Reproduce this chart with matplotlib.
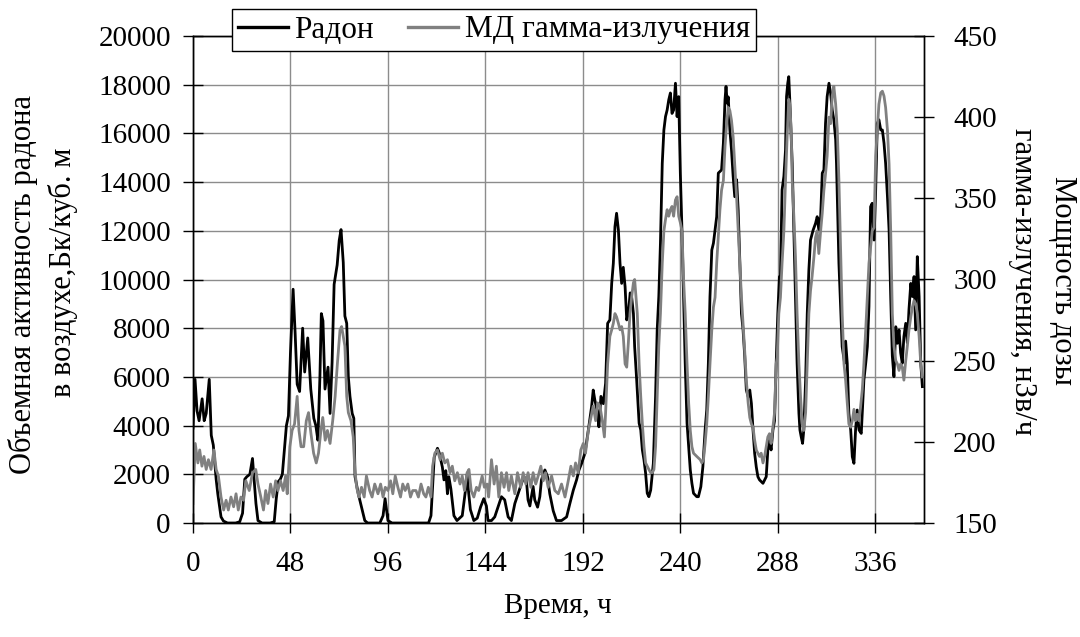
import matplotlib
matplotlib.use("Agg")
import matplotlib.pyplot as plt
from matplotlib.lines import Line2D

# ---------------- data ----------------
radon_t = [0, 1, 2, 3, 4.5, 5.5, 6.5, 8, 9, 10, 11.4, 12.2, 13.8, 15, 17, 19, 21, 23, 24.4,
           25.5, 26.5, 28, 29.3, 30.1, 31, 32, 34, 36, 38, 40, 41, 42, 43, 44, 45, 46, 47, 48,
           49.3, 50.3, 51.3, 52.5, 54, 55, 56.5, 58, 59.5, 60.5, 61.5, 62.5, 63.2, 64, 65, 66.5,
           67.5, 68.5, 69.5, 71, 72, 72.9, 74, 74.8, 75.7, 76.5, 77.3, 78.4, 79.2, 79.8, 81.4,
           83, 84.6, 86, 88, 90, 92, 93.6, 94.6, 96, 98, 100, 104, 108, 112, 116, 117.2, 118.8,
           120.4, 121.2, 122, 122.8, 123.6, 124.5, 125.3, 126, 127, 128.5, 130, 132.6, 134.2,
           135, 135.8, 136.6, 138.3, 140, 141.6, 143.2, 144.5, 145.3, 147, 148.6, 150.2, 151.9,
           153.5, 155.2, 156.8, 158.5, 160.1, 161.8, 163, 164.2, 165, 165.9, 167.5, 168.3,
           169.7, 170.8, 171.6, 173.3, 174.6, 175.7, 177.4, 179, 181.5, 184, 185.6, 187.3,
           188.9, 190.1, 191.4, 193, 194.7, 196.3, 197.1, 197.9, 199.3, 199.9, 200.9, 202.1,
           203.2, 204.2, 205.3, 206.2, 207, 207.8, 208.6, 209.5, 210.3, 211.1, 211.9, 212.8,
           213.6, 214.4, 215.3, 216, 216.9, 217.5, 218.5, 219.7, 220.5, 221.3, 222.1, 222.9,
           223.7, 224.5, 225.4, 226.7, 227.8, 228.6, 229.4, 230.2, 231.1, 231.9, 232.7, 233.5,
           234.3, 235.1, 235.9, 236.7, 237.6, 238.4, 239.2, 240, 240.8, 241.6, 242.4, 243.3,
           244.1, 244.9, 245.7, 246.5, 248.1, 248.9, 250.1, 251.1, 252.2, 253, 253.8, 254.6,
           255.5, 256.3, 257.1, 257.9, 258.7, 260.3, 261.2, 262, 262.5, 263.1, 263.6, 264.4,
           265.2, 266, 266.8, 267.7, 268.5, 269.3, 270.1, 270.9, 271.7, 272.5, 273.4, 274.2,
           275, 275.8, 276.6, 277.4, 278.2, 279, 280.7, 282.3, 283.1, 283.9, 284.7, 285.6,
           286.4, 287.2, 288, 288.8, 289.3, 290.1, 291, 291.8, 292.3, 292.9, 293.4, 293.9,
           295.1, 295.9, 296.7, 297.5, 298.4, 298.9, 299.5, 300.2, 300.8, 301.7, 302.5, 303.3,
           304.1, 305.4, 306.6, 307.4, 308.2, 309.1, 309.9, 310.7, 311.5, 312.3, 313.2, 314,
           314.8, 315.6, 316.5, 316.9, 318.1, 318.9, 319.7, 320.9, 321.4, 322.2, 323, 323.9,
           324.7, 325.5, 326.3, 327.1, 328, 329.1, 329.6, 330.4, 331.3, 332.1, 332.9, 333.7,
           334.5, 335.4, 336.2, 337, 337.8, 338.7, 339.5, 340.3, 341.1, 342, 342.8, 343.6,
           344.4, 345.2, 346.1, 346.9, 347.7, 348.5, 349.3, 350.1, 351, 351.8, 352.6, 353.5,
           354.3, 355.1, 355.9, 356.7, 357.6, 358.4, 359.2]
radon_v = [3900, 5900, 4600, 4200, 5100, 4200, 4500, 5900, 3600, 3200, 1800, 1200, 250, 80, 0, 0,
           0, 50, 400, 1800, 1900, 2000, 2650, 1800, 800, 100, 0, 0, 0, 50, 1000, 1700, 1800,
           2000, 3000, 4000, 4400, 7000, 9600, 7800, 5700, 5400, 8000, 6200, 7600, 5500, 4300,
           4000, 3400, 6000, 8600, 8300, 5500, 6400, 4500, 6600, 9800, 10600, 11600, 12050,
           10700, 8500, 8200, 6000, 5200, 4500, 4300, 1900, 1200, 650, 100, 0, 0, 0, 0, 300,
           1000, 100, 0, 0, 0, 0, 0, 0, 300, 2700, 3070, 2900, 2600, 2300, 1770, 2150, 1200,
           1900, 1400, 300, 100, 300, 1350, 2000, 1200, 550, 100, 200, 650, 1000, 700, 100, 100,
           250, 650, 1080, 950, 250, 100, 800, 1200, 1630, 1900, 1750, 950, 700, 1500, 950, 650,
           1080, 1770, 2180, 1900, 1200, 500, 100, 100, 250, 800, 1350, 1770, 2180, 2450, 2860,
           3820, 4780, 5460, 5050, 4500, 3950, 5200, 4900, 5740, 8200, 8340, 9840, 10660, 12170,
           12720, 12030, 10660, 9840, 10500, 9700, 8340, 8600, 9450, 9300, 8600, 7240, 5870,
           4100, 3820, 3000, 2590, 2040, 1220, 1080, 1350, 2450, 5190, 7930, 9300, 11490, 14770,
           16140, 16690, 16960, 17380, 17660, 16820, 16960, 18060, 16690, 17510, 14370, 12030,
           9300, 6560, 4100, 3130, 2180, 1630, 1220, 1080, 1080, 1490, 2310, 3820, 4640, 6560,
           9300, 11210, 11490, 12030, 12580, 14370, 14500, 15600, 17380, 17930, 17240, 17500,
           16140, 15320, 14240, 13400, 14100, 12850, 10660, 8600, 7930, 6860, 5460, 5190, 5460,
           4910, 3820, 2860, 2300, 1900, 1770, 1630, 1900, 3000, 3400, 3000, 3820, 4200, 6560,
           8600, 10120, 10120, 13680, 14240, 15320, 17510, 18060, 18330, 17380, 14770, 12030,
           9300, 6560, 4500, 3820, 3550, 3270, 3820, 5870, 8600, 10390, 11620, 12030, 12310,
           12580, 12030, 12580, 14370, 14500, 16410, 17510, 18060, 17660, 16960, 16560, 15740,
           14770, 10660, 8900, 7240, 6560, 7470, 6560, 4500, 3820, 2720, 2450, 3820, 4640, 3820,
           3680, 4500, 5870, 6560, 7240, 8900, 12990, 13130, 11620, 13680, 16410, 16560, 16140,
           16140, 15600, 14770, 13400, 12030, 9300, 6860, 6010, 8060, 7380, 7930, 6990, 6560,
           7650, 8200, 7400, 8770, 9840, 9300, 10120, 7930, 10940, 9300, 6560, 5600]

gamma_t = [0, 1.1, 2.4, 3.3, 4.4, 5.4, 6.5, 7.6, 8.9, 10.3, 11.4, 12.5, 13.8, 15.1, 16.3, 17.4,
           18.7, 20, 21.2, 22.3, 23.6, 24.9, 26, 27.7, 29.3, 30.9, 32, 33.4, 34.7, 35.8, 36.9,
           38.2, 39.5, 40.7, 41.8, 43.1, 44.4, 45.6, 46.4, 47.7, 48.8, 50, 51.3, 52.2, 53.2,
           54.5, 55.8, 56.9, 58.1, 59.4, 60.7, 61.8, 63, 63.9, 65.1, 66.2, 67.5, 68.8, 70, 71.1,
           72.4, 73.2, 74, 74.8, 75.7, 76.5, 77.8, 78.9, 79.7, 80.6, 81.7, 83, 84.3, 85.4, 87,
           88.2, 89.5, 91.1, 92.4, 93.6, 94.7, 96, 97.3, 98.4, 99.6, 100.9, 102.2, 103.3, 104.5,
           105.8, 107.1, 108.2, 109.8, 111, 112.3, 113.6, 114.7, 115.9, 117.2, 118, 119.1,
           120.4, 121.7, 122.8, 124, 125.3, 126.6, 127.7, 128.9, 130.2, 131.5, 132.6, 133.7,
           135, 135.9, 137, 138.3, 139.6, 140.7, 142.4, 143.5, 144.8, 145.6, 147, 148.3, 149.4,
           150.6, 151.9, 153.2, 154.4, 155.5, 156.8, 158.5, 159.8, 161.4, 162.6, 163.9, 165,
           166.4, 167.5, 168.8, 170, 171.3, 172.5, 173.6, 174.9, 176.6, 178.2, 179.9, 181.5,
           183.2, 184.8, 186.1, 187.3, 188.4, 189.7, 191, 192.2, 193.3, 194.7, 196, 197.1,
           198.3, 199.3, 200.4, 201.6, 202.6, 203.2, 204.2, 205.3, 206.2, 207, 207.8, 208.6,
           209.5, 210.3, 211.1, 211.9, 212.8, 213.6, 214.4, 215.2, 216, 216.9, 217.5, 218.8,
           219.7, 220.5, 221.3, 222.1, 222.9, 223.7, 224.5, 225.4, 226.2, 227, 227.8, 228.6,
           229.4, 230.2, 231.1, 231.9, 232.7, 233.5, 234.3, 235.1, 235.9, 236.7, 237.6, 238.4,
           239.2, 240, 240.8, 241.6, 242.4, 243.3, 244.1, 244.9, 245.7, 246.5, 248.1, 249.8,
           250.6, 251.4, 252.2, 253, 253.8, 254.6, 255.5, 256.3, 257.1, 257.9, 258.7, 259.5,
           260.3, 261.2, 262, 262.8, 263.6, 264.4, 265.2, 266, 266.8, 267.7, 268.5, 269.3,
           270.1, 270.9, 271.7, 272.5, 273.4, 274.2, 275, 275.8, 276.6, 277.4, 278.2, 279,
           279.8, 280.7, 281.5, 282.3, 283.1, 283.9, 284.7, 285.6, 286.4, 287.2, 287.7, 288.5,
           289.3, 290.1, 291, 291.8, 292.6, 293.4, 293.9, 294.6, 295.1, 295.9, 296.7, 297.5,
           298.4, 299.2, 300, 300.8, 301.7, 302.5, 303.3, 304.1, 304.9, 305.8, 306.6, 307.4,
           308.2, 309.1, 309.9, 310.7, 311.5, 312.3, 313.2, 314, 314.8, 315.6, 316.5, 317.3,
           318.1, 318.9, 319.7, 320.6, 321.4, 322.2, 323, 323.9, 324.7, 325.5, 326.3, 327.1,
           328, 328.8, 329.6, 330.4, 331.3, 332.1, 332.9, 333.7, 334.5, 335.4, 336.2, 337,
           337.8, 338.7, 339.5, 340.3, 341.1, 342, 342.8, 343.6, 344.4, 345.2, 346.1, 346.9,
           347.7, 348.5, 349.3, 350.1, 351, 351.8, 352.6, 353.5, 354.3, 355.1, 355.9, 356.7,
           357.6, 358.4, 359.2]
gamma_v = [162, 199, 187, 195, 185, 191, 183, 189, 183, 195, 183, 179, 166, 158, 164, 158, 166,
           160, 168, 158, 166, 164, 176, 170, 181, 183, 174, 166, 158, 170, 162, 174, 166, 176,
           170, 176, 170, 179, 168, 197, 207, 211, 228, 207, 197, 197, 213, 218, 205, 193, 187,
           193, 207, 215, 201, 207, 199, 213, 228, 248, 269, 271, 265, 259, 228, 218, 213, 203,
           183, 172, 166, 172, 166, 179, 170, 166, 174, 168, 174, 166, 172, 170, 176, 168, 179,
           172, 166, 174, 170, 174, 166, 170, 170, 166, 174, 168, 166, 172, 166, 185, 193, 195,
           189, 193, 187, 189, 181, 185, 176, 181, 174, 179, 170, 181, 183, 170, 166, 172, 170,
           179, 172, 174, 166, 189, 174, 185, 166, 181, 172, 181, 170, 179, 168, 181, 172, 181,
           174, 181, 172, 181, 174, 179, 185, 176, 181, 172, 179, 170, 168, 174, 166, 176, 185,
           179, 187, 181, 195, 199, 193, 207, 215, 222, 213, 224, 222, 213, 203, 218, 248, 265,
           269, 273, 279, 277, 273, 269, 271, 265, 248, 246, 261, 279, 289, 298, 300, 279, 248,
           228, 211, 197, 187, 185, 183, 181, 181, 183, 197, 228, 259, 279, 310, 330, 337, 343,
           339, 343, 345, 339, 349, 351, 339, 335, 330, 300, 279, 248, 224, 207, 197, 193, 191,
           189, 187, 189, 199, 211, 228, 248, 269, 283, 289, 310, 326, 343, 355, 361, 382, 396,
           406, 404, 398, 388, 371, 351, 330, 310, 289, 273, 256, 238, 224, 215, 211, 209, 201,
           195, 193, 191, 193, 187, 191, 197, 203, 205, 199, 209, 218, 248, 252, 279, 289, 310,
           330, 361, 388, 411, 408, 392, 361, 339, 314, 279, 248, 228, 211, 207, 218, 248, 279,
           293, 302, 314, 326, 330, 316, 330, 341, 355, 365, 376, 400, 396, 413, 419, 408, 392,
           361, 320, 279, 248, 238, 224, 211, 209, 213, 220, 213, 217, 213, 222, 232, 248, 269,
           289, 310, 320, 330, 332, 376, 392, 408, 415, 416, 413, 406, 392, 371, 330, 279, 259,
           250, 248, 244, 248, 246, 238, 250, 259, 269, 277, 283, 287, 285, 279, 265, 248, 240]

x_ticks = [0, 48, 96, 144, 192, 240, 288, 336]
left_ticks = list(range(0, 20001, 2000))
right_ticks = [150, 200, 250, 300, 350, 400, 450]

series_names = ["Радон", "МД гамма-излучения"]
x_title = "Время, ч"
left_title = ["Объемная активность радона", "в воздухе,Бк/куб. м"]
right_title = ["Мощность дозы", "гамма-излучения, нЗв/ч"]

# ---------------- drawing ----------------
plt.rcParams['font.family'] = ['Liberation Serif', 'DejaVu Serif']
FS_TICK = 21
FS_TITLE = 22
FS_LEG = 22.5
W, H = 1080, 637
fig = plt.figure(figsize=(W / 100, H / 100), dpi=100)
L, R, T, B = 193, 924, 36, 523
ax = fig.add_axes([L / W, 1 - B / H, (R - L) / W, (B - T) / H])
ax2 = ax.twinx()

grid_c = "#8c8c8c"
ax.set_xlim(0, 360)
ax.set_ylim(0, 20000)
ax2.set_ylim(150, 450)
ax.set_xticks(x_ticks)
ax.set_yticks(left_ticks)
ax2.set_yticks(right_ticks)
ax.grid(True, color=grid_c, linewidth=1.0)
ax.set_axisbelow(True)

ax.plot(radon_t, radon_v, color="black", lw=2.0, solid_joinstyle="round")
ax2.plot(gamma_t, gamma_v, color="#808080", lw=2.0, solid_joinstyle="round")

for a in (ax, ax2):
    for s in a.spines.values():
        s.set_color("black")
        s.set_linewidth(1.0)
ax.tick_params(axis='both', direction='inout', length=14, width=1.0, labelsize=FS_TICK)
ax2.tick_params(axis='y', direction='inout', length=14, width=1.0, labelsize=FS_TICK)
ax.tick_params(axis='x', pad=13)
ax.tick_params(axis='y', pad=9)
ax2.tick_params(axis='y', pad=14)

fig.text(558 / W, 1 - 606 / H, x_title, ha='center', va='center', fontsize=FS_TICK)
fig.text(23 / W, 1 - 285 / H, left_title[0], rotation=90, ha='center', va='center', fontsize=FS_TITLE)
fig.text(63 / W, 1 - 272 / H, left_title[1], rotation=90, ha='center', va='center', fontsize=FS_TITLE)
fig.text(1062 / W, 1 - 281 / H, right_title[0], rotation=-90, ha='center', va='center', fontsize=FS_TITLE)
fig.text(1023 / W, 1 - 282 / H, right_title[1], rotation=-90, ha='center', va='center', fontsize=FS_TITLE)

handles = [Line2D([], [], color="black", lw=2.4), Line2D([], [], color="#808080", lw=2.4)]
leg = fig.legend(handles, series_names, loc='center', ncol=2,
                 bbox_to_anchor=((228 + 760) / 2 / W, 1 - 30 / H),
                 fontsize=FS_LEG, frameon=True, fancybox=False, framealpha=1,
                 edgecolor="black", handlelength=1.6, handletextpad=0.2,
                 columnspacing=1.1, borderpad=0.2, borderaxespad=0)
leg.get_frame().set_linewidth(1.0)

fig.savefig("out.png", dpi=100)
